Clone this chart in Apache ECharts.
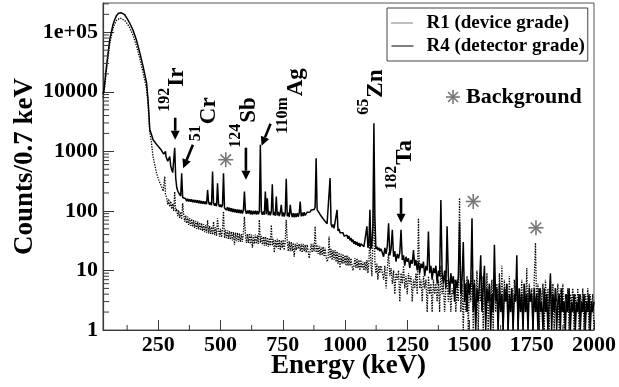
<!DOCTYPE html>
<html>
<head>
<meta charset="utf-8">
<script src="https://cdn.jsdelivr.net/npm/echarts@6/dist/echarts.min.js"></script>
<style>
  html, body { margin: 0; padding: 0; background: #fff; }
  #chart { width: 619px; height: 387px; }
</style>
</head>
<body>
<div id="chart"></div>
<script>
// Gamma-ray spectra of two samples, counts per 0.7 keV bin versus energy.

const FONT = '"Liberation Serif", "Times New Roman", Times, serif';
const AXIS_COLOR = '#3a3a3a';
const FRAME_COLOR = '#555';

const X_MIN = 28, X_MAX = 2000;
const Y_MIN = 1, Y_MAX = 310000;

// Tick values
const xMajorTicks = [250, 500, 750, 1000, 1250, 1500, 1750, 2000];
const xMinorTicks = [125, 375, 625, 875, 1125, 1375, 1625, 1875];
const yMinorTicks = [
  2, 3, 4, 5, 6, 7, 8, 9,
  20, 30, 40, 50, 60, 70, 80, 90,
  200, 300, 400, 500, 600, 700, 800, 900,
  2000, 3000, 4000, 5000, 6000, 7000, 8000, 9000,
  20000, 30000, 40000, 50000, 60000, 70000, 80000, 90000,
  200000, 300000
];

// R4 (detector grade), low-energy part: [energy keV, counts]
const r4Head = [
  [28,9000],[32,10800],[42,26700],[55,75000],[68,134000],[75,162000],[82,190000],[90,208000],
  [95,215000],[102,212000],[108,205000],[115,197000],[125,170000],[135,143000],[148,110000],
  [162,75000],[176,45000],[189,26700],[203,14100],[209,7350],[213,3860],[216,2310],[223,1900],
  [229,1570],[236,1440],[242,1330],[248,1240],[252,1180],[257,1120],[262,1050],[267,980],
  [272,900],[276,870],[279,1000],[281,820]
];
// R1 (device grade), low-energy part: [energy keV, counts]
const r1Head = [
  [28,8000],[32,9500],[42,23000],[55,64000],[68,115000],[75,138000],[82,158000],[90,170000],
  [97,174000],[105,170000],[115,158000],[125,140000],[135,120000],[148,90000],[162,60000],
  [176,36000],[189,21000],[203,11000],[209,6000],[213,3300],[216,2100],[222,1450],[229,820],
  [236,590],[243,430],[253,320],[263,258],[270,215],[273,205],[276,380],[279,190]
];

// Counts from 284 keV to 1148 keV, one value every 4 keV
const BODY_START = 284, BODY_STEP = 4;
const r4Body = [
  760,680,640,820,570,490,440,410,1150,360,
  250,218,200,190,178,430,168,166,156,160,
  146,160,144,157,142,156,140,154,139,152,
  137,151,135,149,133,147,132,145,130,144,
  129,225,141,127,139,125,460,136,122,134,
  120,290,131,117,128,115,126,430,112,118,
  103,116,100,113,98,111,96,109,95,107,
  93,106,92,105,91,104,90,103,211,102,
  89,102,90,103,88,101,87,100,89,101,
  87,100,88,99,1290,97,86,98,86,211,
  88,163,85,98,84,97,280,85,96,83,
  175,84,96,82,94,127,81,94,80,93,
  347,81,93,79,127,91,79,92,78,91,
  79,92,80,91,144,81,93,82,95,84,
  89,95,92,99,96,104,101,109,106,115,
  769,104,106,93,95,82,85,74,77,67,
  70,61,65,57,355,60,53,59,51,55,
  49,104,46,50,43,46,41,43,38,41,
  36,39,34,38,32,35,30,33,28,31,
  27,30,26,29,25,28,26,28,25,27,
  26,55,24,28,104,23,27,60,2970,80,
  23,25,22,24,21,23,21
];
const r1Body = [
  165,128,158,118,145,108,132,100,211,98,
  108,82,102,76,96,72,135,88,66,84,
  62,80,58,76,56,73,54,70,52,68,
  50,66,49,64,47,62,46,60,44,58,
  43,70,42,56,41,54,40,66,39,53,
  38,75,49,37,50,36,49,98,35,48,
  35,47,34,46,33,45,32,44,27,43,
  31,43,30,42,30,41,30,44,80,40,
  29,41,29,42,28,40,24,39,28,40,
  28,39,28,71,29,38,27,37,26,37,
  26,36,25,35,26,58,26,34,20,33,
  24,34,23,33,22,32,24,33,22,32,
  71,31,21,31,21,30,21,29,17,28,
  22,29,23,28,21,28,20,28,21,27,
  20,27,21,16,21,28,20,28,21,55,
  20,27,19,26,18,25,18,25,17,24,
  17,14,16,37,16,23,15,22,15,22,
  14,21,13,20,11,19,13,19,13,18,
  12,18,12,17,12,16,12,10,12,16,
  11,16,11,15,10,15,11,14,10,14,
  10,15,9,14,40,13,8,30,175,14,
  9,13,7,12,9,12,10
];

// Counts from 1150 keV to 2000 keV, one value every 5 keV
const TAIL_START = 1150, TAIL_STEP = 5;
const r4Tail = [
  22,17,24,19,26,62,18,23,48,17,
  21,14,19,16,20,48,15,18,12,17,
  14,16,11,15,13,22,12,15,10,14,
  9,13,11,14,8,12,10,45,9,12,
  7,11,9,12,6,10,8,153,9,6,
  10,5,55,8,4,9,6,8,3,7,
  5,8,66,4,7,30,3,6,2,7,
  4,6,75,2,6,1,5,3,6,18,
  2,5,12,1,5,3,6,1,4,2,
  27,3,5,1,6,2,4,1,5,3,
  6,1,4,2,5,1,4,3,18,1,
  5,2,4,1,6,2,4,1,5,3,
  4,1,5,2,4,1,5,2,3,1,
  5,2,4,1,3,9,1,4,2,5,
  1,3,4,1,5,2,3,1,4,2,
  5,1,3,2,4,1,3,2,4,1,
  3,2,4,1,3,2,4,1,3,2,
  3
];
const r1Tail = [
  10,7,12,5,11,20,8,11,6,10,
  4,9,7,10,3,9,6,12,5,8,
  4,9,6,8,3,7,5,9,4,75,
  5,7,3,8,5,7,2,8,4,6,
  2,7,4,6,3,7,2,12,4,6,
  2,5,7,3,6,2,5,4,7,2,
  5,3,165,2,6,1,7,2,8,1,
  6,3,9,1,7,2,10,1,6,3,
  8,1,7,2,9,1,6,3,7,1,
  8,2,6,1,9,2,12,1,7,3,
  6,1,8,2,5,1,7,3,6,1,
  5,2,7,1,6,2,11,1,6,3,
  5,1,7,29,2,6,1,5,3,6,
  1,7,2,5,1,7,2,6,1,5,
  3,6,1,5,2,6,1,4,2,5,
  1,4,3,5,1,4,2,5,1,4,
  2,5,1,4,2,5,1,4,2,4,
  1
];

// Identified lines: label anchor [keV, counts], isotope mass / symbol
const isotopeAnchors = [[327,4630],[453,1480],[614,1150],[802,1980],[1126,4130],[1241,227]];
const isotopeMass = ['192', '51', '124', '110m', '65', '182'];
const isotopeSymbol = ['Ir', 'Cr', 'Sb', 'Ag', 'Zn', 'Ta'];
// Arrows: [tail keV, tail counts, head keV, head counts]
const peakArrows = [
  [318,3670,318,1570],
  [389,1294,350,521],
  [602,1152,602,334],
  [701,2913,665,1244],
  [1225,165,1225,63]
];
// Background lines: [keV, counts]
const backgroundStars = [[521,724],[1515,144],[1767,52]];

function gridPairs(start, step, counts) {
  return counts.map((c, i) => [start + i * step, c]);
}
const r1Data = r1Head.concat(gridPairs(BODY_START, BODY_STEP, r1Body), gridPairs(TAIL_START, TAIL_STEP, r1Tail));
const r4Data = r4Head.concat(gridPairs(BODY_START, BODY_STEP, r4Body), gridPairs(TAIL_START, TAIL_STEP, r4Tail));

const measureCtx = document.createElement('canvas').getContext('2d');
function textWidth(text, size) {
  measureCtx.font = 'bold ' + size + 'px ' + FONT;
  return measureCtx.measureText(text).width;
}

const STAR_COLOR = '#777';
function starShape(cx, cy, r) {
  const lines = [];
  for (let k = 0; k < 4; k++) {
    const a = k * Math.PI / 4;
    const dx = Math.cos(a) * r, dy = Math.sin(a) * r;
    lines.push({
      type: 'line',
      shape: { x1: cx - dx, y1: cy - dy, x2: cx + dx, y2: cy + dy },
      style: { stroke: STAR_COLOR, lineWidth: 1.6 }
    });
  }
  return { type: 'group', children: lines };
}

const MASS_SIZE = 16, SYMBOL_SIZE = 23;
const TICK_FONT_SIZE = 22;

const chart = echarts.init(document.getElementById('chart'), null, { renderer: 'canvas' });

chart.setOption({
  animation: false,
  backgroundColor: '#fff',
  grid: {
    left: 103, right: 25, top: 3, bottom: 57,
    containLabel: false, outerBoundsMode: 'none',
    show: true, borderColor: FRAME_COLOR, borderWidth: 1, backgroundColor: 'transparent'
  },
  legend: {
    data: ['R1 (device grade)', 'R4 (detector grade)'],
    orient: 'vertical',
    left: 387, top: 8,
    backgroundColor: '#fff',
    borderColor: '#444', borderWidth: 1, borderRadius: 0,
    padding: [5, 3, 5, 4],
    itemGap: 3,
    itemWidth: 22, itemHeight: 14,
    itemStyle: { opacity: 0 },
    lineStyle: { width: 1 },
    selectedMode: false,
    textStyle: {
      fontFamily: FONT, fontWeight: 'bold', fontSize: 19, color: '#000',
      lineHeight: 20, padding: [0, 0, 0, 8]
    }
  },
  xAxis: {
    type: 'value', min: X_MIN, max: X_MAX,
    name: 'Energy (keV)', nameLocation: 'middle', nameGap: 23, nameMoveOverlap: false,
    nameTextStyle: { fontFamily: FONT, fontWeight: 'bold', fontSize: 27, color: '#000' },
    axisLine: { show: true, onZero: false, lineStyle: { color: AXIS_COLOR, width: 1.2 } },
    axisTick: { show: true, inside: true, length: 10, customValues: xMajorTicks,
      lineStyle: { color: AXIS_COLOR, width: 1 } },
    axisLabel: { customValues: xMajorTicks, formatter: v => String(v), margin: 4,
      fontFamily: FONT, fontWeight: 'bold', fontSize: TICK_FONT_SIZE, color: '#000' },
    splitLine: { show: false }
  },
  yAxis: {
    type: 'log', logBase: 10, min: Y_MIN, max: Y_MAX,
    name: 'Counts/0.7 keV', nameLocation: 'middle', nameGap: 64, nameMoveOverlap: false,
    nameTextStyle: { fontFamily: FONT, fontWeight: 'bold', fontSize: 27, color: '#000' },
    axisLine: { show: true, lineStyle: { color: AXIS_COLOR, width: 1.2 } },
    axisTick: { show: true, inside: true, length: 11, lineStyle: { color: AXIS_COLOR, width: 1 } },
    axisLabel: {
      showMaxLabel: false, margin: 5,
      fontFamily: FONT, fontWeight: 'bold', fontSize: TICK_FONT_SIZE, color: '#000',
      formatter: v => {
        const n = Math.round(v);
        return n >= 100000 ? '1e+05' : String(n);
      }
    },
    splitLine: { show: false }
  },
  graphic: [
    Object.assign(starShape(0, 0, 7), { x: 453, y: 97 }),
    {
      type: 'text', x: 466, y: 97,
      style: { text: 'Background', font: 'bold 22px ' + FONT, fill: '#000',
        align: 'left', verticalAlign: 'middle' }
    }
  ],
  series: [
    {
      name: 'R1 (device grade)', type: 'line', data: r1Data,
      symbol: 'none', showSymbol: false, silent: true, z: 2, clip: true,
      itemStyle: { color: '#000' },
      lineStyle: { color: '#000', width: 1.3, type: 'dotted' }
    },
    {
      name: 'R4 (detector grade)', type: 'line', data: r4Data,
      symbol: 'none', showSymbol: false, silent: true, z: 3, clip: true,
      itemStyle: { color: '#000' },
      lineStyle: { color: '#000', width: 1.5, type: 'solid' }
    },
    {
      // minor ticks on the log axis
      type: 'custom', silent: true, z: 4,
      data: yMinorTicks.map(v => [X_MIN, v]),
      renderItem: (params, api) => {
        const p = api.coord([api.value(0), api.value(1)]);
        return { type: 'line', shape: { x1: p[0], y1: p[1], x2: p[0] + 6, y2: p[1] },
          style: { stroke: AXIS_COLOR, lineWidth: 1 } };
      }
    },
    {
      // minor ticks on the energy axis
      type: 'custom', silent: true, z: 4,
      data: xMinorTicks.map(e => [e, Y_MIN]),
      renderItem: (params, api) => {
        const p = api.coord([api.value(0), api.value(1)]);
        return { type: 'line', shape: { x1: p[0], y1: p[1], x2: p[0], y2: p[1] - 5 },
          style: { stroke: AXIS_COLOR, lineWidth: 1 } };
      }
    },
    {
      // background-line markers
      type: 'custom', silent: true, z: 6,
      data: backgroundStars,
      renderItem: (params, api) => {
        const p = api.coord([api.value(0), api.value(1)]);
        return starShape(p[0], p[1], 7.5);
      }
    },
    {
      // arrows pointing at identified peaks
      type: 'custom', silent: true, z: 6,
      data: peakArrows,
      renderItem: (params, api) => {
        const a = api.coord([api.value(0), api.value(1)]);
        const b = api.coord([api.value(2), api.value(3)]);
        const dx = b[0] - a[0], dy = b[1] - a[1];
        const len = Math.sqrt(dx * dx + dy * dy);
        const ux = dx / len, uy = dy / len;
        const headLen = 9, headHalf = 4.5;
        const bx = b[0] - ux * headLen, by = b[1] - uy * headLen;
        return {
          type: 'group',
          children: [
            { type: 'line', shape: { x1: a[0], y1: a[1], x2: bx, y2: by },
              style: { stroke: '#000', lineWidth: 2.6 } },
            { type: 'polygon', shape: { points: [
                [b[0], b[1]],
                [bx - uy * headHalf, by + ux * headHalf],
                [bx + uy * headHalf, by - ux * headHalf]
              ] }, style: { fill: '#000' } }
          ]
        };
      }
    },
    {
      // isotope names, read bottom to top
      type: 'custom', silent: true, z: 6,
      data: isotopeAnchors,
      renderItem: (params, api) => {
        const p = api.coord([api.value(0), api.value(1)]);
        const i = params.dataIndex;
        const massW = textWidth(isotopeMass[i], MASS_SIZE);
        return {
          type: 'group', x: p[0], y: p[1], rotation: Math.PI / 2,
          children: [
            { type: 'text', x: 0, y: -12.8,
              style: { text: isotopeMass[i], font: 'bold ' + MASS_SIZE + 'px ' + FONT,
                fill: '#000', align: 'left', verticalAlign: 'middle' } },
            { type: 'text', x: massW + 1, y: 0,
              style: { text: isotopeSymbol[i], font: 'bold ' + SYMBOL_SIZE + 'px ' + FONT,
                fill: '#000', align: 'left', verticalAlign: 'middle' } }
          ]
        };
      }
    }
  ]
});
</script>
</body>
</html>
